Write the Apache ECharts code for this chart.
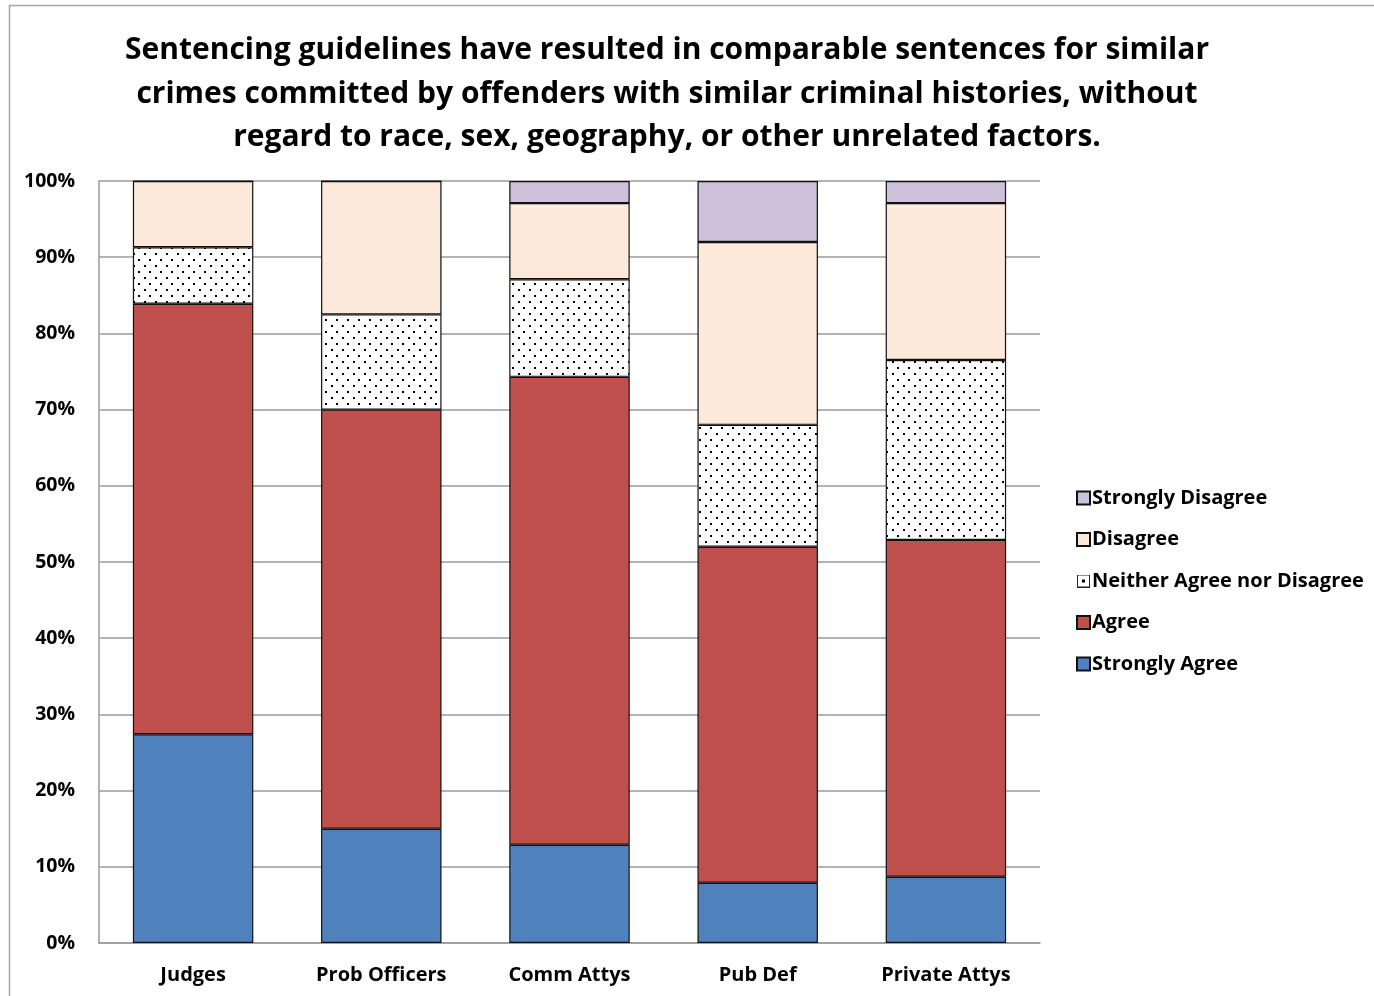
<!DOCTYPE html>
<html>
<head>
<meta charset="utf-8">
<script src="https://cdn.jsdelivr.net/npm/echarts@6/dist/echarts.min.js"></script>
<style>
  html, body { margin: 0; padding: 0; background: #fff; }
  #chart { width: 1374px; height: 996px; }
</style>
</head>
<body>
<div id="chart"></div>
<script>
// Survey responses by group, percent of respondents
const categories = ['Judges', 'Prob Officers', 'Comm Attys', 'Pub Def', 'Private Attys'];
const stronglyAgree    = [27.4, 15.0, 12.9,  7.9,  8.7];
const agree            = [56.5, 55.0, 61.4, 44.1, 44.2];
const neither          = [ 7.4, 12.5, 12.8, 16.0, 23.6];
const disagree         = [ 8.7, 17.5, 10.0, 24.0, 20.6];
const stronglyDisagree = [ 0.0,  0.0,  2.9,  8.0,  2.9];

const FONT = '"Open Sans", "Noto Sans", sans-serif';

// Dotted fill for the neutral response
function makeDots() {
  const c = document.createElement('canvas');
  c.width = 11; c.height = 12;
  const g = c.getContext('2d');
  g.fillStyle = '#fff';
  g.fillRect(0, 0, 11, 12);
  g.fillStyle = '#000';
  g.fillRect(1, 1, 2, 2);
  g.fillRect(6, 7, 2, 2);
  return c;
}
// Legend swatch: white square with a single centred dot
function makeDotIcon() {
  const c = document.createElement('canvas');
  c.width = 13; c.height = 13;
  const g = c.getContext('2d');
  g.fillStyle = '#fff';
  g.fillRect(0, 0, 13, 13);
  g.strokeStyle = '#222';
  g.lineWidth = 1;
  g.strokeRect(0.5, 0.5, 12, 12);
  g.fillStyle = '#000';
  g.fillRect(5, 5, 3, 3);
  return c.toDataURL();
}

const chart = echarts.init(document.getElementById('chart'), null, { renderer: 'canvas' });

function bar(name, data, color) {
  return {
    name, type: 'bar', stack: 'all', data,
    barWidth: '64%',
    itemStyle: { color, borderColor: '#111', borderWidth: 1.2 },
    emphasis: { disabled: true }
  };
}

chart.setOption({
  animation: false,
  backgroundColor: '#fff',
  graphic: [{
    type: 'rect', silent: true,
    shape: { x: 9.5, y: 5.5, width: 1400, height: 1100 },
    style: { fill: 'none', stroke: '#a6a6a6', lineWidth: 1.5 }
  }],
  title: {
    text: 'Sentencing guidelines have resulted in comparable sentences for similar\ncrimes committed by offenders with similar criminal histories, without\nregard to race, sex, geography, or other unrelated factors.',
    left: 662, top: 24, textAlign: 'center',
    textStyle: { fontFamily: FONT, fontWeight: 'bold', fontSize: 30, lineHeight: 43.5, color: '#000' }
  },
  grid: { left: 99, right: 334, top: 181, bottom: 53, containLabel: false },
  legend: {
    orient: 'vertical', left: 1071, top: 483,
    icon: 'rect',
    itemWidth: 13, itemHeight: 13, itemGap: 21.5,
    textStyle: { fontFamily: FONT, fontWeight: 'bold', fontSize: 20, lineHeight: 20, color: '#000', padding: [0, 0, 0, -3] },
    data: [
      { name: 'Strongly Disagree' },
      { name: 'Disagree' },
      { name: 'Neither Agree nor Disagree', icon: 'image://' + makeDotIcon() },
      { name: 'Agree' },
      { name: 'Strongly Agree' }
    ],
    selectedMode: false
  },
  xAxis: {
    type: 'category', data: categories,
    axisLine: { lineStyle: { color: '#9a9a9a', width: 1.5 } },
    axisTick: { show: false },
    axisLabel: { fontFamily: FONT, fontWeight: 'bold', fontSize: 20, color: '#000', margin: 22 }
  },
  yAxis: {
    type: 'value', min: 0, max: 100, interval: 10,
    axisLine: { show: true, lineStyle: { color: '#9a9a9a', width: 1.5 } },
    axisTick: { show: false },
    splitLine: { lineStyle: { color: '#9a9a9a', width: 1.5 } },
    axisLabel: { formatter: '{value}%', fontFamily: FONT, fontWeight: 'bold', fontSize: 19.5, color: '#000', margin: 24 }
  },
  series: [
    bar('Strongly Agree', stronglyAgree, '#4F81BD'),
    bar('Agree', agree, '#C0504D'),
    bar('Neither Agree nor Disagree', neither, { image: makeDots(), repeat: 'repeat' }),
    bar('Disagree', disagree, '#FDE9D9'),
    bar('Strongly Disagree', stronglyDisagree, '#CCC0DA')
  ]
});
</script>
</body>
</html>
